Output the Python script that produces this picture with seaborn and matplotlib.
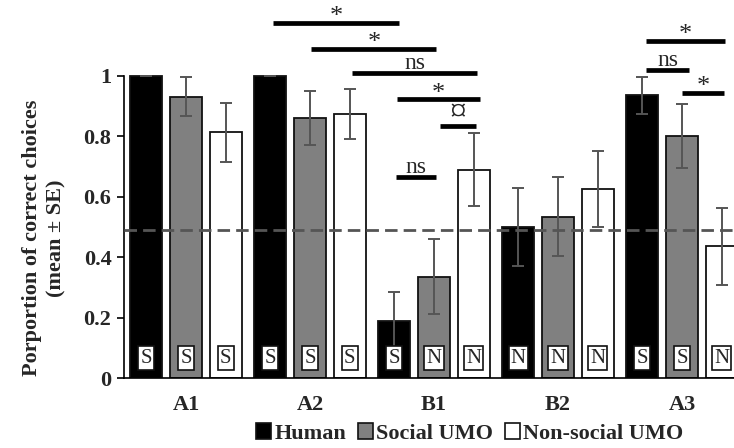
import numpy as np
import pandas as pd
import matplotlib
matplotlib.use("Agg")
import matplotlib.pyplot as plt
import matplotlib.patches as mpatches
import seaborn as sns

# ---- data ----
categories = ["A1", "A2", "B1", "B2", "A3"]
groups = ["Human", "Social UMO", "Non-social UMO"]
human = [1.0, 1.0, 0.19, 0.50, 0.935]
social = [0.93, 0.86, 0.335, 0.533, 0.80]
nonsocial = [0.812, 0.874, 0.689, 0.625, 0.435]
human_se = [0.0, 0.0, 0.096, 0.129, 0.062]
social_se = [0.065, 0.09, 0.124, 0.131, 0.107]
nonsocial_se = [0.098, 0.083, 0.12, 0.125, 0.126]
human_lab = ["S", "S", "S", "N", "S"]
social_lab = ["S", "S", "N", "N", "S"]
nonsocial_lab = ["S", "S", "N", "N", "N"]
chance = 0.49
# significance brackets: (x_start, x_end, y, label)
sig = [
    (0.70, 1.72, 1.175, "*"),
    (1.01, 2.02, 1.089, "*"),
    (1.34, 2.35, 1.010, "ns"),
    (1.70, 2.37, 0.921, "*"),
    (2.05, 2.34, 0.834, "\u00a4"),
    (1.69, 2.02, 0.666, "ns"),
    (3.71, 4.35, 1.116, "*"),
    (3.71, 4.06, 1.020, "ns"),
    (4.00, 4.34, 0.944, "*"),
]

df = pd.DataFrame({
    "cat": categories * 3,
    "group": [g for g in groups for _ in categories],
    "val": human + social + nonsocial,
})
ses = [human_se, social_se, nonsocial_se]
labs = [human_lab, social_lab, nonsocial_lab]
colors = ["#000000", "#808080", "#ffffff"]

sns.set_style("white")
plt.rcParams["font.family"] = ["Liberation Serif", "DejaVu Serif"]

fig = plt.figure(figsize=(7.34, 4.48), dpi=100)
ax = fig.add_axes([124 / 734, 1 - 378 / 448, 620 / 734, 378 / 448])

sns.barplot(data=df, x="cat", y="val", hue="group", order=categories,
            hue_order=groups, palette=colors, width=0.96, gap=0.19,
            errorbar=None, edgecolor="#111111", linewidth=1.3, ax=ax,
            legend=False, zorder=2)

for cont, se, lab in zip(ax.containers, ses, labs):
    for bar, e, t in zip(cont, se, lab):
        xc = bar.get_x() + bar.get_width() / 2
        h = bar.get_height()
        ax.errorbar(xc, h, yerr=e, fmt="none", ecolor="#555555",
                    elinewidth=1.4, capsize=4.5, capthick=1.4, zorder=3)
        ax.text(xc, 0.066, t, ha="center", va="center", fontsize=15,
                zorder=5,
                bbox=dict(boxstyle="square,pad=0.1", fc="white",
                          ec="#111111", lw=1.2))

ax.axhline(chance, color="#555555", lw=2, ls=(0, (4.5, 2.2)), zorder=4)

for x1, x2, y, t in sig:
    ax.plot([x1, x2], [y, y], color="black", lw=3.4, solid_capstyle="butt",
            zorder=4, clip_on=False)
    if t == "*":
        fs, dy = 19, -0.018
    elif t == "ns":
        fs, dy = 17, -0.004
    else:
        fs, dy = 24, -0.008
    ax.text((x1 + x2) / 2, y + dy, t, ha="center", va="bottom",
            fontsize=fs, zorder=4, clip_on=False)

ax.set_xlim(-0.5, 4.5)
ax.set_ylim(0, 1.25)
ax.set_yticks([0, 0.2, 0.4, 0.6, 0.8, 1.0])
ax.set_yticklabels(["0", "0.2", "0.4", "0.6", "0.8", "1"],
                   fontsize=16, fontweight="bold")
ax.set_xticks(range(len(categories)))
ax.set_xticklabels(categories, fontsize=16, fontweight="bold")
ax.tick_params(axis="x", length=0, pad=12)
ax.tick_params(axis="y", direction="out", length=5, width=1.2,
               color="black", left=True, pad=4)
for s in ["top", "right"]:
    ax.spines[s].set_visible(False)
ax.spines["left"].set_bounds(0, 1)
ax.spines["left"].set_color("black")
ax.spines["bottom"].set_color("black")
ax.spines["left"].set_linewidth(1.2)
ax.spines["bottom"].set_linewidth(1.2)
ax.set_xlabel("")
ax.set_ylabel("Porportion of correct choices\n(mean \u00b1 SE)",
              fontsize=16, fontweight="bold", linespacing=1.3)
ax.yaxis.set_label_coords(-0.092, 0.37)

handles = [mpatches.Patch(facecolor=c, edgecolor="#111111", lw=1.2)
           for c in colors]
fig.legend(handles, groups, loc="center", bbox_to_anchor=(0.64, 0.032),
           ncol=3, frameon=False, handlelength=0.7, handleheight=0.7,
           handletextpad=0.15, columnspacing=0.5,
           prop=dict(size=16, weight="bold"))

fig.savefig("out.png", dpi=100)
